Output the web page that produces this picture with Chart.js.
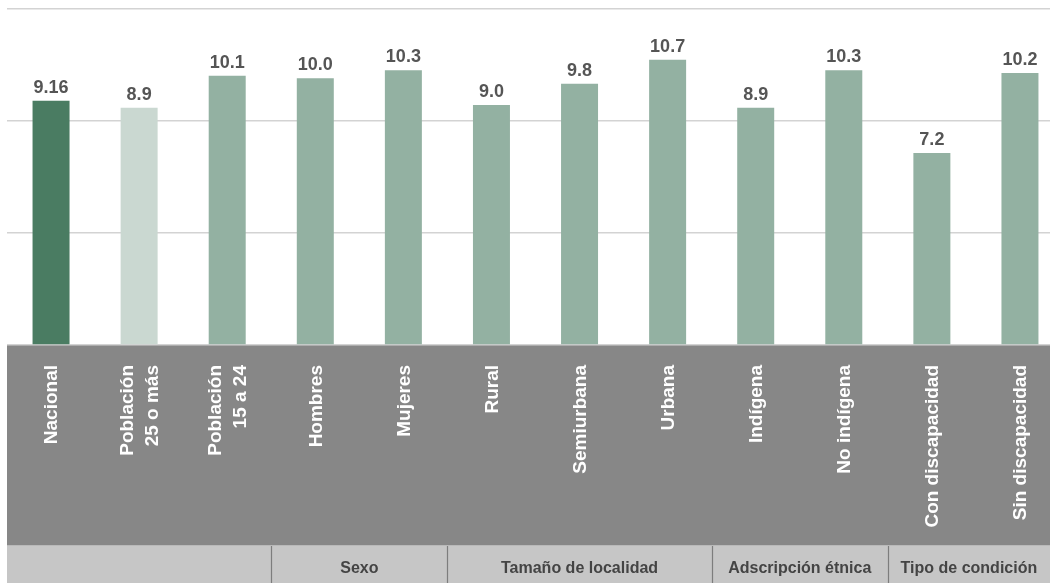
<!DOCTYPE html>
<html lang="es">
<head>
<meta charset="utf-8">
<title>Gráfica</title>
<script src="https://cdn.jsdelivr.net/npm/chart.js@4/dist/chart.umd.min.js"></script>
<style>
  html, body { margin: 0; padding: 0; background: #fff; overflow: hidden; }
  #wrap { width: 1050px; height: 583px; overflow: hidden; }
</style>
</head>
<body>
<div id="wrap"><canvas id="chart" width="1064" height="583"></canvas></div>
<script>
const categories = [
    "Nacional",
    ["Población", "25 o más"],
    ["Población", "15 a 24"],
    "Hombres",
    "Mujeres",
    "Rural",
    "Semiurbana",
    "Urbana",
    "Indígena",
    "No indígena",
    "Con discapacidad",
    "Sin discapacidad"
];
const values = [9.16, 8.9, 10.1, 10.0, 10.3, 9.0, 9.8, 10.7, 8.9, 10.3, 7.2, 10.2];
const valueLabels = ["9.16", "8.9", "10.1", "10.0", "10.3", "9.0", "9.8", "10.7", "8.9", "10.3", "7.2", "10.2"];
const barColors = ["#4a7c62", "#cad8d1", "#93b1a2", "#93b1a2", "#93b1a2", "#93b1a2",
    "#93b1a2", "#93b1a2", "#93b1a2", "#93b1a2", "#93b1a2", "#93b1a2"];
const yTicks = [0, 4.2, 8.4, 12.6];
// groups under the axis: first index, last index, name
const groupNames = ["Sexo", "Tamaño de localidad", "Adscripción étnica", "Tipo de condición"];
const groupStart = [3, 5, 8, 10];
const groupEnd = [4, 7, 9, 11];

const BAND_BOTTOM = 546;
const FONT = "'Liberation Sans', Arial, sans-serif";

const bandsPlugin = {
    id: "bands",
    beforeDraw(chart) {
        const { ctx, chartArea } = chart;
        const x = chart.scales.x;
        const step = x.getPixelForValue(1) - x.getPixelForValue(0);
        ctx.save();
        ctx.fillStyle = "#878787";
        ctx.fillRect(chartArea.left, chartArea.bottom, chart.width - chartArea.left, BAND_BOTTOM - chartArea.bottom);
        ctx.fillStyle = "#c6c6c6";
        ctx.fillRect(chartArea.left, BAND_BOTTOM, chart.width - chartArea.left, chart.height - BAND_BOTTOM);
        ctx.fillStyle = "#b9b9b9";
        ctx.fillRect(chartArea.left, BAND_BOTTOM - 1, chart.width - chartArea.left, 1);
        ctx.strokeStyle = "#7d7d7d";
        ctx.lineWidth = 1.2;
        groupStart.forEach((s) => {
            const bx = Math.round(x.getPixelForValue(s) - step / 2) + 0.5;
            ctx.beginPath();
            ctx.moveTo(bx, BAND_BOTTOM);
            ctx.lineTo(bx, chart.height);
            ctx.stroke();
        });
        ctx.restore();
    },
    afterDraw(chart) {
        const { ctx, chartArea } = chart;
        const x = chart.scales.x;
        const step = x.getPixelForValue(1) - x.getPixelForValue(0);
        ctx.save();

        // category labels, rotated, top-aligned in the dark band
        ctx.fillStyle = "#ffffff";
        ctx.font = "bold 19px " + FONT;
        ctx.textAlign = "right";
        ctx.textBaseline = "middle";
        const lineGap = 25;
        categories.forEach((label, i) => {
            const lines = Array.isArray(label) ? label : [label];
            const cx = x.getPixelForValue(i);
            lines.forEach((line, j) => {
                const lx = cx + (j - (lines.length - 1) / 2) * lineGap + 1;
                ctx.save();
                ctx.translate(lx, chartArea.bottom + 20);
                ctx.rotate(-Math.PI / 2);
                ctx.fillText(line, 0, 0);
                ctx.restore();
            });
        });

        // group names in the light band
        ctx.fillStyle = "#444444";
        ctx.font = "bold 16px " + FONT;
        ctx.textAlign = "center";
        ctx.textBaseline = "middle";
        groupNames.forEach((name, i) => {
            const left = x.getPixelForValue(groupStart[i]) - step / 2;
            const right = Math.min(x.getPixelForValue(groupEnd[i]) + step / 2, 1050);
            ctx.fillText(name, (left + right) / 2, (BAND_BOTTOM + chart.height) / 2 + 4);
        });

        // value labels above bars
        ctx.fillStyle = "#555555";
        ctx.font = "bold 18px " + FONT;
        ctx.textBaseline = "bottom";
        chart.getDatasetMeta(0).data.forEach((bar, i) => {
            ctx.fillText(valueLabels[i], bar.x, bar.y - 4);
        });
        ctx.restore();
    }
};

new Chart(document.getElementById("chart"), {
    type: "bar",
    data: {
        labels: categories,
        datasets: [{
            data: values,
            backgroundColor: barColors,
            borderWidth: 0,
            barPercentage: 0.84,
            categoryPercentage: 0.5
        }]
    },
    options: {
        responsive: false,
        animation: false,
        devicePixelRatio: 1,
        layout: { padding: { left: 7, right: 0, top: 9, bottom: 0 } },
        plugins: { legend: { display: false }, tooltip: { enabled: false } },
        scales: {
            x: {
                grid: { display: false },
                border: { display: false },
                afterFit(scale) { scale.height = 583 - 345; },
                ticks: { display: false }
            },
            y: {
                min: 0,
                max: 12.6,
                afterBuildTicks(scale) { scale.ticks = yTicks.map((v) => ({ value: v })); },
                afterFit(scale) { scale.width = 0; },
                grid: { color: "#d3d3d3", lineWidth: 1.5, drawTicks: false },
                border: { display: false },
                ticks: { display: false }
            }
        }
    },
    plugins: [bandsPlugin]
});
</script>
</body>
</html>
